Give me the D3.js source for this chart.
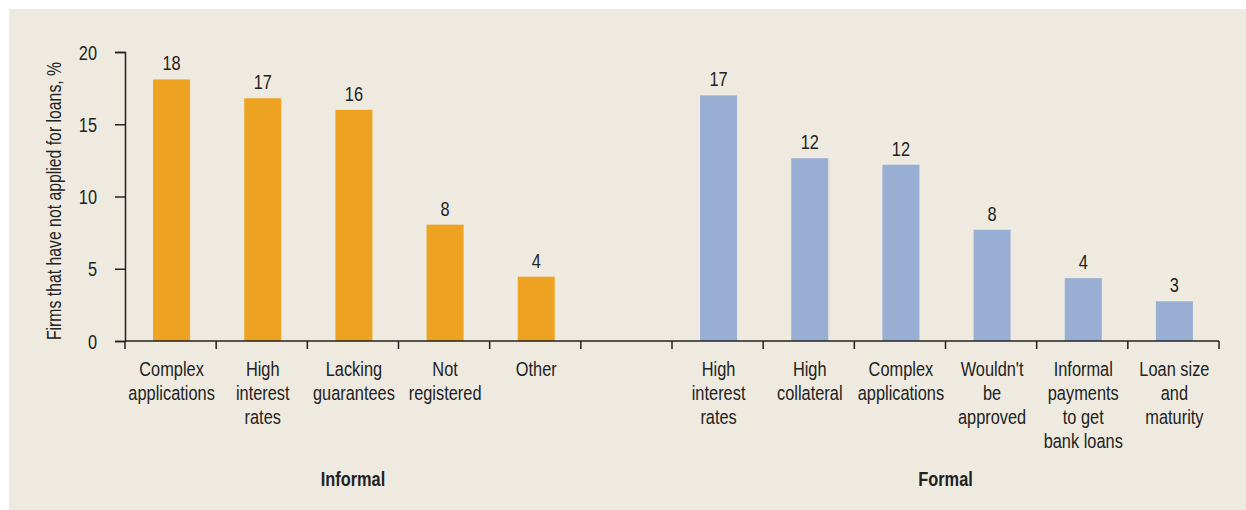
<!DOCTYPE html>
<html><head><meta charset="utf-8">
<script src="https://cdn.jsdelivr.net/npm/d3@7"></script>
<style>body{margin:0;background:#fff}svg{display:block}text{font-family:"Liberation Sans",Arial,sans-serif;fill:#222}</style>
</head><body>
<svg id="c" width="1246" height="510"></svg>
<script>
const informalCats = ["Complex\napplications","High\ninterest\nrates","Lacking\nguarantees","Not\nregistered","Other"];
const informalVals = [18.1, 16.8, 16.0, 8.05, 4.45];
const informalLabels = ["18","17","16","8","4"];
const formalCats = ["High\ninterest\nrates","High\ncollateral","Complex\napplications","Wouldn't\nbe\napproved","Informal\npayments\nto get\nbank loans","Loan size\nand\nmaturity"];
const formalVals = [17.0, 12.65, 12.2, 7.7, 4.35, 2.75];
const formalLabels = ["17","12","12","8","4","3"];
const groupNames = ["Informal","Formal"];
const yTicks = [0,5,10,15,20];

const SX = 0.84, FS = 19.5;
const svg = d3.select("#c");
svg.append("rect").attr("x",9).attr("y",9).attr("width",1237).attr("height",501).attr("fill","#EEEAE0");

function txt(x0,y0,s,anchor,extra,sx){
  return svg.append("text").attr("transform",`translate(${x0},${y0})${extra||""} scale(${sx||SX},1)`)
    .attr("text-anchor",anchor||"middle").attr("font-size",FS).text(s);
}

const rows = [];
informalCats.forEach((c,i)=>rows.push({key:"i"+i,cat:c,v:informalVals[i],lab:informalLabels[i],g:0}));
rows.push({key:"gap",cat:"",v:null,lab:"",g:-1});
formalCats.forEach((c,i)=>rows.push({key:"f"+i,cat:c,v:formalVals[i],lab:formalLabels[i],g:1}));

const x = d3.scaleBand().domain(rows.map(d=>d.key)).range([125,1219]).padding(0);
const y = d3.scaleLinear().domain([0,20]).range([341,52]);
const colors = ["#EDA321","#99AED3"];
const bw = 37;

// y axis
const ya = svg.append("g").attr("transform","translate(125,0)")
  .call(d3.axisLeft(y).tickValues(yTicks).tickSize(10).tickPadding(8));
ya.select(".domain").attr("stroke","#222").attr("stroke-width",1.5);
ya.selectAll(".tick line").attr("stroke","#222").attr("stroke-width",1.5);
ya.selectAll(".tick text").attr("x",0).attr("dy",null).attr("font-size",FS)
  .style("font-family",'"Liberation Sans",Arial,sans-serif').attr("fill","#222")
  .attr("transform",`translate(-28,7) scale(${SX},1)`);

// bars
const bars = rows.filter(d=>d.v!==null);
svg.selectAll("rect.bar").data(bars).join("rect").attr("class","bar")
  .attr("x",d=>x(d.key)+x.bandwidth()/2-bw/2+1)
  .attr("width",bw)
  .attr("y",d=>y(d.v)).attr("height",d=>y(0)-y(d.v))
  .attr("fill",d=>colors[d.g]);
bars.forEach(d=>txt(x(d.key)+x.bandwidth()/2+1, y(d.v)-9, d.lab));

// x axis
const xa = svg.append("g").attr("transform","translate(0,341)");
xa.append("line").attr("x1",125).attr("x2",1219).attr("stroke","#222").attr("stroke-width",1.5);
const edges = rows.map(d=>x(d.key)).concat([1219]);
xa.selectAll("line.t").data(edges).join("line").attr("class","t")
  .attr("x1",d=>d).attr("x2",d=>d).attr("y1",0).attr("y2",8).attr("stroke","#222").attr("stroke-width",1.5);
rows.forEach(d=>{
  if(!d.cat) return;
  d.cat.split("\n").forEach((ln,i)=>txt(x(d.key)+x.bandwidth()/2+1, 376+i*24, ln));
});

// group labels
[0,1].forEach(g=>{
  const ks = rows.filter(d=>d.g===g).map(d=>d.key);
  const x0 = x(ks[0]), x1 = x(ks[ks.length-1])+x.bandwidth();
  txt((x0+x1)/2, 486, groupNames[g]).attr("font-weight","bold");
});

// y title
txt(61, 201, "Firms that have not applied for loans, %", "middle", " rotate(-90)", 0.81);
</script>
</body></html>
